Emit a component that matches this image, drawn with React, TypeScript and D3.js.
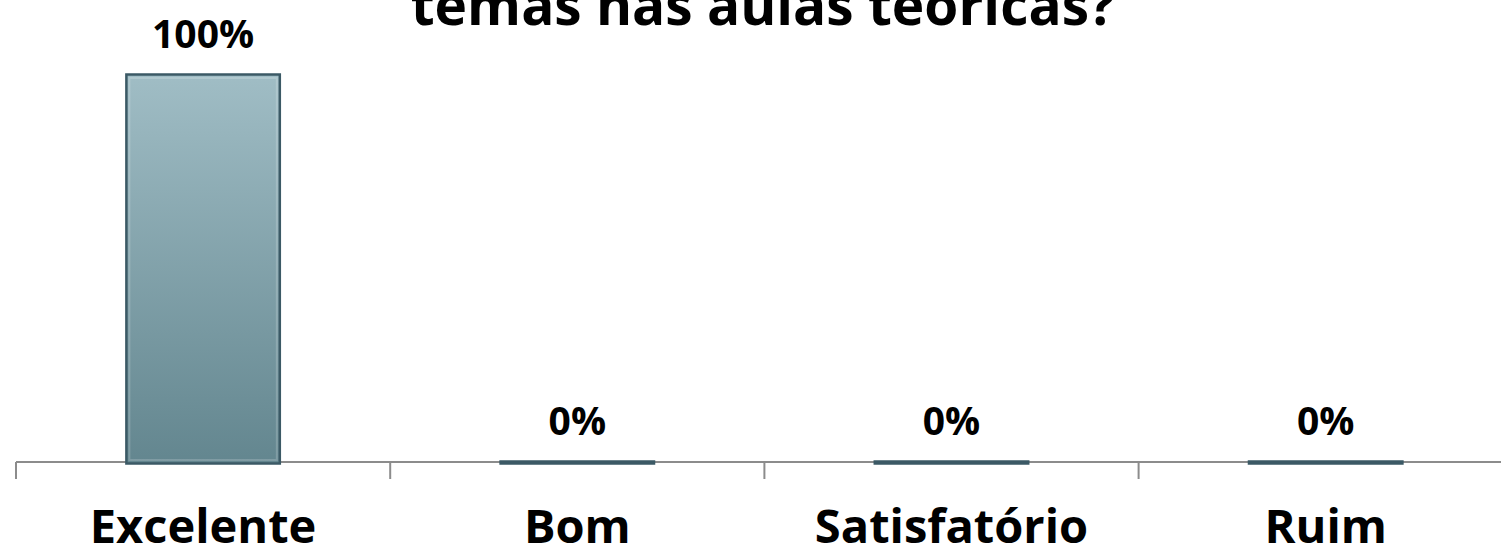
import React, { useEffect, useRef } from 'react';
import * as d3 from 'd3';

// chart data
const categories = ['Excelente', 'Bom', 'Satisfatório', 'Ruim'];
const values = [100, 0, 0, 0];
const valueLabels = ['100%', '0%', '0%', '0%'];
const titleLine = 'temas nas aulas teóricas?';

const App = () => {
  const svgRef = useRef<SVGSVGElement>(null);

  useEffect(() => {
    d3.select(svgRef.current).selectAll('*').remove();

    const width = 1501;
    const height = 557;
    const axisY = 462;
    const font = '"Open Sans", Lato, sans-serif';

    const svg = d3.select(svgRef.current)
      .attr('width', width)
      .attr('height', height);

    // gradient for the bars
    const grad = svg.append('defs').append('linearGradient')
      .attr('id', 'barGrad')
      .attr('x1', 0).attr('y1', 0).attr('x2', 0).attr('y2', 1);
    grad.append('stop').attr('offset', '0%').attr('stop-color', '#a0bdc5');
    grad.append('stop').attr('offset', '100%').attr('stop-color', '#63868f');

    // scales
    const xScale = d3.scaleBand<string>()
      .domain(categories)
      .range([16, 16 + 4 * 374.2])
      .paddingInner(0)
      .paddingOuter(0);

    const yScale = d3.scaleLinear()
      .domain([0, 100])
      .range([axisY, 75]);

    const barW = xScale.bandwidth() * 0.41;

    // title (its first line lies above the picture)
    svg.append('text')
      .attr('x', 763)
      .attr('y', 25)
      .attr('text-anchor', 'middle')
      .attr('font-family', font)
      .attr('font-weight', 'bold')
      .attr('font-size', 55)
      .attr('fill', '#000')
      .text(titleLine);

    // x axis: line plus ticks between categories
    const axis = svg.append('g')
      .attr('transform', `translate(0, ${axisY})`);
    axis.append('line')
      .attr('x1', xScale.range()[0])
      .attr('x2', xScale.range()[1])
      .attr('stroke', '#8c8c8c')
      .attr('stroke-width', 2);
    axis.selectAll('line.tick')
      .data(categories)
      .enter()
      .append('line')
      .attr('class', 'tick')
      .attr('x1', d => xScale(d)!)
      .attr('x2', d => xScale(d)!)
      .attr('y1', 0)
      .attr('y2', 17)
      .attr('stroke', '#8c8c8c')
      .attr('stroke-width', 2);

    // bars
    const bars = svg.selectAll('g.bar')
      .data(values)
      .enter()
      .append('g')
      .attr('class', 'bar');

    bars.append('rect')
      .attr('x', (d, i) => xScale(categories[i])! + xScale.bandwidth() / 2 - barW / 2)
      .attr('y', d => yScale(d) - 0.5)
      .attr('width', barW)
      .attr('height', d => yScale(0) - yScale(d) + 2)
      .attr('fill', 'url(#barGrad)')
      .attr('stroke', '#3b5965')
      .attr('stroke-width', 2.5);

    // light inner bevel
    bars.filter(d => d > 0).append('rect')
      .attr('x', (d, i) => xScale(categories[i])! + xScale.bandwidth() / 2 - barW / 2 + 3)
      .attr('y', d => yScale(d) + 3)
      .attr('width', barW - 6)
      .attr('height', d => yScale(0) - yScale(d) - 5)
      .attr('fill', 'none')
      .attr('stroke', '#ffffff')
      .attr('stroke-opacity', 0.18)
      .attr('stroke-width', 2);

    // value labels
    svg.selectAll('text.value')
      .data(values)
      .enter()
      .append('text')
      .attr('class', 'value')
      .attr('x', (d, i) => xScale(categories[i])! + xScale.bandwidth() / 2)
      .attr('y', d => yScale(d) - 27)
      .attr('text-anchor', 'middle')
      .attr('font-family', font)
      .attr('font-weight', 'bold')
      .attr('font-size', 39)
      .attr('fill', '#000')
      .text((d, i) => valueLabels[i]);

    // category labels
    svg.selectAll('text.cat')
      .data(categories)
      .enter()
      .append('text')
      .attr('class', 'cat')
      .attr('x', d => xScale(d)! + xScale.bandwidth() / 2)
      .attr('y', 543)
      .attr('text-anchor', 'middle')
      .attr('font-family', font)
      .attr('font-weight', 'bold')
      .attr('font-size', 47)
      .attr('fill', '#000')
      .text(d => d);
  }, []);

  return (
    <div style={{ position: 'absolute', left: 0, top: 0, width: 1501, height: 557, background: '#fff' }}>
      <svg ref={svgRef} style={{ display: 'block' }}></svg>
    </div>
  );
};

export default App;
